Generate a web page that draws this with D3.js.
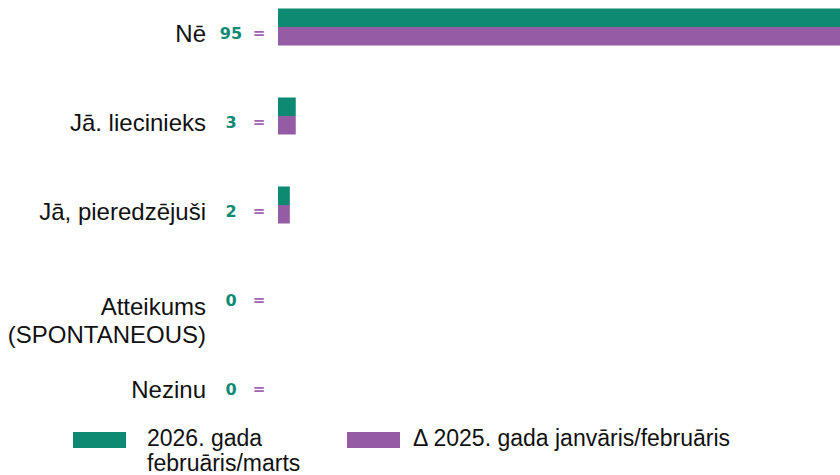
<!DOCTYPE html>
<html>
<head>
<meta charset="utf-8">
<script src="https://cdn.jsdelivr.net/npm/d3@7"></script>
<style>
  body { margin: 0; background: #fff; }
  svg { display: block; }
</style>
</head>
<body>
<svg id="chart" width="840" height="475"></svg>
<script>
const categories = ["Nē", "Jā. liecinieks", "Jā, pieredzējuši", "Atteikums (SPONTANEOUS)", "Nezinu"];
const categoryLines = [["Nē"], ["Jā. liecinieks"], ["Jā, pieredzējuši"], ["Atteikums", "(SPONTANEOUS)"], ["Nezinu"]];
const values2026 = [95, 3, 2, 0, 0];
const values2025 = [95, 3, 2, 0, 0];
const deltaLabels = ["=", "=", "=", "=", "="];
const seriesNames = [["2026. gada", "februāris/marts"], ["Δ 2025. gada janvāris/februāris"]];

const green = "#0e8a72";
const purple = "#955ba5";
const labelFont = "Liberation Sans, Arial, sans-serif";

const svg = d3.select("#chart");

const x = d3.scaleLinear().domain([0, 95]).range([278, 840]);
const y = d3.scalePoint().domain(categories).range([27, 383]);
const barH = 18.5;

const rows = svg.selectAll("g.row")
  .data(categories)
  .join("g")
  .attr("class", "row")
  .attr("transform", d => `translate(0,${y(d)})`);

// 2026 bar above the centre line, previous wave below it
rows.append("rect")
  .attr("x", x(0))
  .attr("y", -barH)
  .attr("width", (d, i) => x(values2026[i]) - x(0))
  .attr("height", barH)
  .attr("fill", green);

rows.append("rect")
  .attr("x", x(0))
  .attr("y", 0)
  .attr("width", (d, i) => x(values2025[i]) - x(0))
  .attr("height", barH)
  .attr("fill", purple);

// category labels, right aligned
rows.each(function (d, i) {
  const lines = categoryLines[i];
  const t = d3.select(this).append("text")
    .attr("text-anchor", "end")
    .attr("font-family", labelFont)
    .attr("font-size", 24)
    .attr("fill", "#111");
  const first = lines.length > 1 ? 21 : 15;
  lines.forEach((line, j) => {
    t.append("tspan").attr("x", 206).attr("y", first + j * 28).text(line);
  });
});

rows.append("text")
  .attr("x", 231)
  .attr("y", 12)
  .attr("text-anchor", "middle")
  .attr("font-family", "DejaVu Sans, Verdana, sans-serif")
  .attr("font-weight", "bold")
  .attr("font-size", 16)
  .attr("fill", green)
  .text((d, i) => values2026[i]);

rows.append("text")
  .attr("x", 259)
  .attr("y", 11)
  .attr("text-anchor", "middle")
  .attr("font-family", "DejaVu Sans, Verdana, sans-serif")
  .attr("font-weight", "bold")
  .attr("font-size", 15)
  .attr("fill", "#a263b2")
  .text((d, i) => deltaLabels[i]);

// legend
const legend = svg.append("g");
const legendX = [73, 347];
const legendTextX = [147, 413];
[green, purple].forEach((c, i) => {
  legend.append("rect")
    .attr("x", legendX[i]).attr("y", 432)
    .attr("width", 53).attr("height", 16)
    .attr("fill", c);
  const t = legend.append("text")
    .attr("font-family", labelFont)
    .attr("font-size", 23)
    .attr("fill", "#111");
  seriesNames[i].forEach((line, j) => {
    t.append("tspan").attr("x", legendTextX[i]).attr("y", 446 + j * 25).text(line);
  });
});
</script>
</body>
</html>
